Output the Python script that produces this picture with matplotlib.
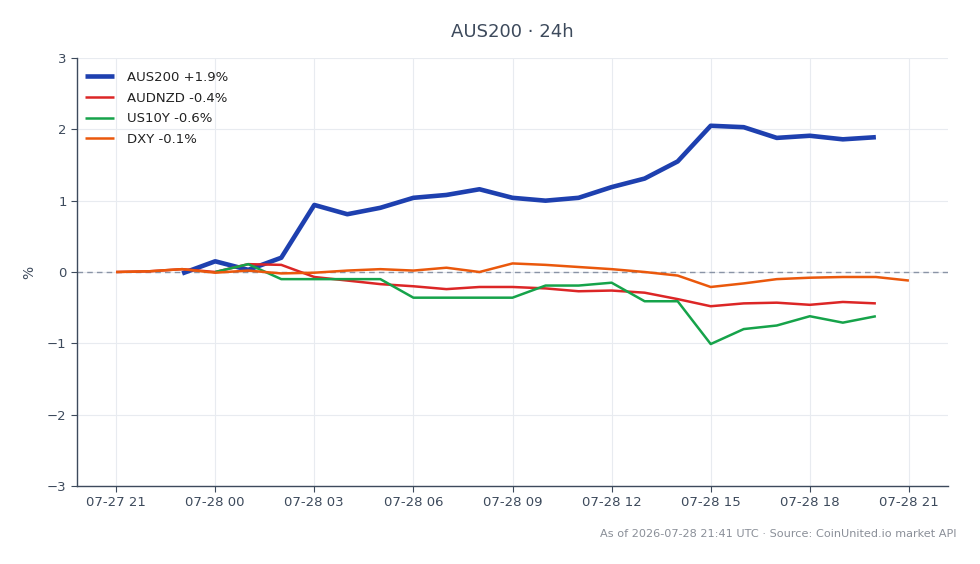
import numpy as np
import pandas as pd
import matplotlib
matplotlib.use("Agg")
import matplotlib.pyplot as plt
import matplotlib.dates as mdates

# hourly % change over the last 24h
hours = pd.date_range("2026-07-27 21:00", "2026-07-28 21:00", freq="h")

aus200 = [None, None, -0.02, 0.15, 0.03, 0.20, 0.94, 0.81, 0.90, 1.04, 1.08, 1.16,
          1.04, 1.00, 1.04, 1.19, 1.31, 1.55, 2.05, 2.03, 1.88, 1.91, 1.86, 1.89, None]
audnzd = [0.00, 0.01, 0.04, 0.00, 0.11, 0.10, -0.07, -0.12, -0.17, -0.20, -0.24, -0.21,
          -0.21, -0.23, -0.27, -0.26, -0.29, -0.38, -0.48, -0.44, -0.43, -0.46, -0.42, -0.44, None]
us10y = [None, None, None, 0.00, 0.11, -0.10, -0.10, -0.10, -0.10, -0.36, -0.36, -0.36,
         -0.36, -0.19, -0.19, -0.15, -0.41, -0.41, -1.01, -0.80, -0.75, -0.62, -0.71, -0.62, None]
dxy = [0.00, 0.01, 0.04, -0.01, 0.02, -0.02, -0.01, 0.02, 0.04, 0.02, 0.06, 0.00,
       0.12, 0.10, 0.07, 0.04, 0.00, -0.05, -0.21, -0.16, -0.10, -0.08, -0.07, -0.07, -0.12]

labels = ["AUS200 +1.9%", "AUDNZD -0.4%", "US10Y -0.6%", "DXY -0.1%"]
colors = ["#1e40af", "#dc2626", "#16a34a", "#ea580c"]
widths = [3.3, 1.8, 1.8, 1.8]

text_col = "#3d4a5c"

fig = plt.figure(figsize=(9.8, 5.64), dpi=100)
ax = fig.add_axes([77/980, 1 - 486/564, (948-77)/980, (486-58)/564])

for vals, lab, c, w in zip([aus200, audnzd, us10y, dxy], labels, colors, widths):
    s = pd.Series(vals, index=hours, dtype=float)
    ax.plot(s.index, s.values, color=c, lw=w, label=lab, solid_capstyle="butt", zorder=3)

ax.axhline(0, color="#8a94a6", lw=1, ls=(0, (4, 3)), zorder=1)

ax.set_ylim(-3, 3)
ax.set_yticks([-3, -2, -1, 0, 1, 2, 3])
ax.set_yticklabels(["\u22123", "\u22122", "\u22121", "0", "1", "2", "3"])
pad = pd.Timedelta(minutes=71)
ax.set_xlim(hours[0] - pad, hours[-1] + pad)
ax.xaxis.set_major_locator(mdates.HourLocator(byhour=[0, 3, 6, 9, 12, 15, 18, 21]))
ax.xaxis.set_major_formatter(mdates.DateFormatter("%m-%d %H"))

ax.grid(True, color="#e8ebf0", lw=0.8, zorder=0)
ax.set_axisbelow(True)
for sp in ["top", "right"]:
    ax.spines[sp].set_visible(False)
for sp in ["left", "bottom"]:
    ax.spines[sp].set_color("#3d4a5c")
    ax.spines[sp].set_linewidth(1)
ax.tick_params(colors=text_col, labelsize=9.5, length=4)
ax.set_ylabel("%", color=text_col, fontsize=10, labelpad=8)

ax.legend(loc="upper left", bbox_to_anchor=(0, 0.988), frameon=False, fontsize=9.5,
          handlelength=2.2, handletextpad=1.0, labelspacing=0.58,
          labelcolor="#222222", borderaxespad=0.2)

fig.text((77 + 948) / 2 / 980, 1 - 32/564, "AUS200 \u00b7 24h", ha="center", va="center",
         fontsize=13, color=text_col)
fig.text(956/980, 1 - 534/564, "As of 2026-07-28 21:41 UTC \u00b7 Source: CoinUnited.io market API",
         ha="right", va="center", fontsize=8.1, color="#8a8f98")

fig.savefig("out.png", dpi=100)
